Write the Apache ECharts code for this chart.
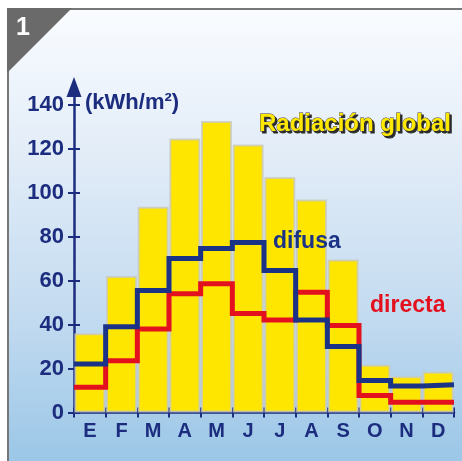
<!DOCTYPE html>
<html><head><meta charset="utf-8">
<script src="https://cdn.jsdelivr.net/npm/echarts@6/dist/echarts.min.js"></script>
<style>html,body{margin:0;padding:0;background:#fff}#c{width:462px;height:461px}</style>
</head><body><div id="c"></div>
<script>
const months = ['E','F','M','A','M','J','J','A','S','O','N','D'];
const globalRad = [36, 62, 93.5, 124.5, 132.5, 121.8, 107, 96.8, 69.5, 21.7, 16.5, 18.5];
const difusa = [22, 39, 55.5, 70, 74.5, 77.3, 64.5, 42, 30, 14.5, 12, 12.6];
const directa = [11.5, 23.5, 38, 54, 58.5, 45, 42, 54.7, 39.5, 7.7, 4.7, 4.7];
const yTicks = [0, 20, 40, 60, 80, 100, 120, 140];

const NAVY = '#1c2c7e';
const FONT = '"Liberation Sans", Arial, sans-serif';

function steps(vals) {
  const out = [];
  vals.forEach((v, i) => { out.push([i, v]); out.push([i + 1, v]); });
  return out;
}

const chart = echarts.init(document.getElementById('c'), null, {renderer: 'canvas'});
chart.setOption({
  animation: false,
  backgroundColor: '#ffffff',
  grid: {left: 74, right: 8, top: 86.9, bottom: 48.5},
  xAxis: [
    {
      type: 'category', data: months, boundaryGap: true,
      axisLine: {lineStyle: {color: NAVY, width: 2.5}},
      axisTick: {show: true, length: 5, lineStyle: {color: NAVY, width: 2}},
      axisLabel: {color: NAVY, fontSize: 20, fontWeight: 'bold', fontFamily: FONT, margin: 9},
      splitLine: {show: false}
    },
    {
      type: 'value', position: 'bottom', min: 0, max: 12, interval: 1,
      axisLine: {show: false},
      axisTick: {show: true, inside: true, length: 5, lineStyle: {color: NAVY, width: 2}},
      axisLabel: {show: false},
      splitLine: {show: false}
    }
  ],
  yAxis: [
    {
      type: 'value', position: 'left', min: 0, max: 148,
      axisLine: {show: true, symbol: ['none', 'triangle'], symbolSize: [15, 20],
        lineStyle: {color: NAVY, width: 2.5}},
      axisTick: {show: true, length: 6, customValues: yTicks, lineStyle: {color: NAVY, width: 2}},
      axisLabel: {customValues: yTicks, color: NAVY, fontSize: 22, fontWeight: 'bold', fontFamily: FONT, margin: 10},
      splitLine: {show: false}
    },
    {
      type: 'value', position: 'left', min: 0, max: 148,
      axisLine: {show: false},
      axisTick: {show: true, inside: true, length: 6, customValues: yTicks, lineStyle: {color: NAVY, width: 2}},
      axisLabel: {show: false},
      splitLine: {show: false}
    }
  ],
  series: [
    {
      type: 'bar', xAxisIndex: 0, yAxisIndex: 0, data: globalRad, barWidth: 31, z: 2,
      itemStyle: {color: '#ffe600', borderColor: 'rgba(200,200,190,0.75)', borderWidth: 2}
    },
    {
      type: 'line', xAxisIndex: 1, yAxisIndex: 0, data: steps(directa), showSymbol: false, z: 3,
      lineStyle: {color: '#e3101e', width: 5, join: 'miter', cap: 'butt'}
    },
    {
      type: 'line', xAxisIndex: 1, yAxisIndex: 0, data: steps(difusa), showSymbol: false, z: 4,
      lineStyle: {color: '#1a3386', width: 5, join: 'miter', cap: 'butt'}
    }
  ],
  graphic: [
    {
      type: 'rect', z: -10, silent: true,
      shape: {x: 8, y: 9, width: 470, height: 470},
      style: {
        fill: {type: 'linear', x: 0, y: 0, x2: 0, y2: 1, colorStops: [
          {offset: 0, color: '#fafcff'}, {offset: 0.3, color: '#e3edf8'},
          {offset: 0.65, color: '#c3dbf0'}, {offset: 1, color: '#96c4e6'}]},
        stroke: '#777', lineWidth: 2
      }
    },
    {
      type: 'polygon', z: 50, silent: true,
      shape: {points: [[7, 8], [72, 8], [7, 73]]},
      style: {fill: '#6a6a6a'}
    },
    {
      type: 'text', z: 51, x: 23, y: 28,
      style: {text: '1', fill: '#ffffff', font: 'bold 25px ' + FONT, align: 'center', verticalAlign: 'middle'}
    },
    {
      type: 'text', z: 60, x: 85, y: 103,
      style: {text: '(kWh/m²)', fill: NAVY, font: 'bold 22px ' + FONT, align: 'left', verticalAlign: 'middle'}
    },
    {
      type: 'text', z: 60, x: 357, y: 126,
      style: {text: 'Radiación global', fill: '#2a2a2a', stroke: '#2a2a2a', lineWidth: 1, font: 'bold 24px ' + FONT, align: 'center', verticalAlign: 'middle'}
    },
    {
      type: 'text', z: 61, x: 355, y: 124,
      style: {text: 'Radiación global', fill: '#ffe800', stroke: '#3a3a3a', lineWidth: 0.8, font: 'bold 24px ' + FONT, align: 'center', verticalAlign: 'middle'}
    },
    {
      type: 'text', z: 60, x: 273, y: 242,
      style: {text: 'difusa', fill: '#1a3386', font: 'bold 23px ' + FONT, align: 'left', verticalAlign: 'middle'}
    },
    {
      type: 'text', z: 60, x: 370, y: 306,
      style: {text: 'directa', fill: '#e3101e', font: 'bold 23px ' + FONT, align: 'left', verticalAlign: 'middle'}
    }
  ]
});
</script>
</body></html>
